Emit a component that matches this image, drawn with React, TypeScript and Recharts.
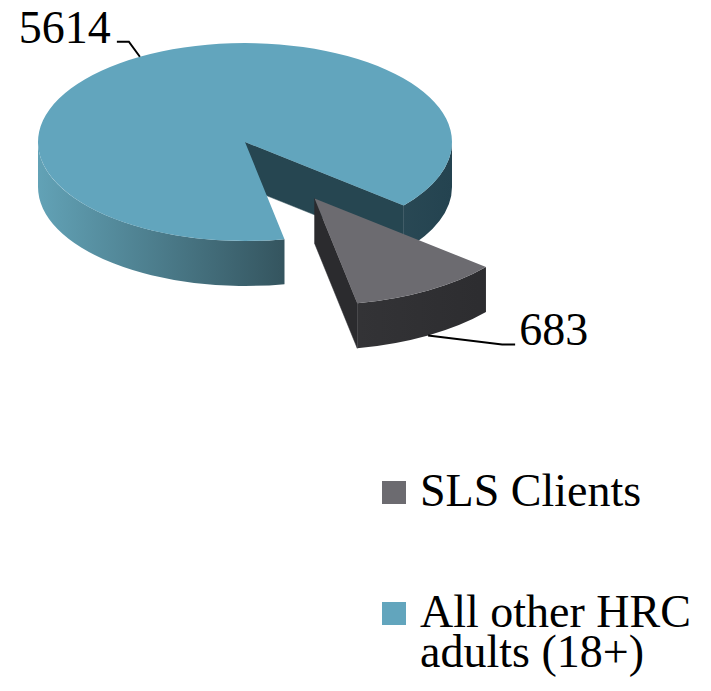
import React from "react";
import { PieChart, Pie, Cell, Legend } from "recharts";

const categories = ["SLS Clients", "All other HRC adults (18+)"];
const values = [683, 5614];
const colors = ["#6c6b70", "#62a5bd"];

// side shading (light -> dark across the slice) and cut-wall colour
const sideShades = [
  ["#78777c", "#333336", "#2a2a2d"],
  ["#62a2b6", "#34545e", "#244350"],
];
const wallColors = ["#2b2b2e", "#264651"];
const explode = [137, 0];
const grow = [1.08, 1];
// label leader: bend offset, then horizontal run
const leaders = [
  { bend: [74, 9], run: 13 },
  { bend: [-11, -15], run: -12 },
];

const W = 711;
const H = 691;
const TILT = 0.478;
const DEPTH = 45;
const FONT = "'Liberation Serif', 'Times New Roman', serif";

// back slice first so the exploded slice gets painted over it
const pieData = categories
  .map((name, i) => ({ name, value: values[i] }))
  .reverse();

const rad = (d: number) => (d * Math.PI) / 180;

function proj(ox: number, oy: number, r: number, deg: number) {
  return [ox + r * Math.cos(rad(deg)), oy - r * TILT * Math.sin(rad(deg))];
}

function sliceOrigin(cx: number, cy: number, mid: number, i: number) {
  const e = explode[i];
  return [cx + e * Math.cos(rad(mid)), cy - e * TILT * Math.sin(rad(mid))];
}

function Slice3D(props: any) {
  const { cx, cy, outerRadius, startAngle, endAngle, midAngle, name } = props;
  const i = categories.indexOf(name);
  const r = outerRadius * grow[i];
  const ry = r * TILT;
  const [ox, oy] = sliceOrigin(cx, cy, midAngle, i);
  const a0 = Math.min(startAngle, endAngle);
  const a1 = Math.max(startAngle, endAngle);
  const p0 = proj(ox, oy, r, a0);
  const p1 = proj(ox, oy, r, a1);
  const large = a1 - a0 > 180 ? 1 : 0;

  const top = `M${ox},${oy} L${p0[0]},${p0[1]} A${r},${ry} 0 ${large} 0 ${p1[0]},${p1[1]} Z`;

  // front (lower-half) parts of the rim
  const sides: string[] = [];
  for (let k = -3; k <= 3; k++) {
    const lo = Math.max(a0, -180 + 360 * k);
    const hi = Math.min(a1, 360 * k);
    if (hi > lo) {
      const s = proj(ox, oy, r, lo);
      const e = proj(ox, oy, r, hi);
      sides.push(
        `M${s[0]},${s[1]} A${r},${ry} 0 0 0 ${e[0]},${e[1]} L${e[0]},${e[1] + DEPTH} A${r},${ry} 0 0 1 ${s[0]},${s[1] + DEPTH} Z`
      );
    }
  }

  // radial cut walls facing the viewer
  const walls: string[] = [];
  const wall = (p: number[]) =>
    `M${ox},${oy} L${p[0]},${p[1]} L${p[0]},${p[1] + DEPTH} L${ox},${oy + DEPTH} Z`;
  if (Math.cos(rad(a0)) > 0) walls.push(wall(p0));
  if (Math.cos(rad(a1)) < 0) walls.push(wall(p1));

  const gid = `side-grad-${i}`;
  return (
    <g>
      <defs>
        <linearGradient id={gid} gradientUnits="userSpaceOnUse" x1={ox - r} y1={0} x2={ox + r} y2={0}>
          <stop offset="0" stopColor={sideShades[i][0]} />
          <stop offset="0.6" stopColor={sideShades[i][1]} />
          <stop offset="1" stopColor={sideShades[i][2]} />
        </linearGradient>
      </defs>
      {walls.map((d, j) => (
        <path key={`w${j}`} d={d} fill={wallColors[i]} stroke={wallColors[i]} strokeWidth={0.5} />
      ))}
      {sides.map((d, j) => (
        <path key={`s${j}`} d={d} fill={`url(#${gid})`} />
      ))}
      <path d={top} fill={colors[i]} />
    </g>
  );
}

function SliceLabel(props: any) {
  const { cx, cy, outerRadius, midAngle, name, value } = props;
  const i = categories.indexOf(name);
  const r = outerRadius * grow[i];
  const [ox, oy] = sliceOrigin(cx, cy, midAngle, i);
  let [x, y] = proj(ox, oy, r, midAngle);
  if (Math.sin(rad(midAngle)) < 0) y += DEPTH;
  const { bend, run } = leaders[i];
  const bx = x + bend[0];
  const by = y + bend[1];
  const ex = bx + run;
  const right = run > 0;
  return (
    <g>
      <polyline points={`${x},${y} ${bx},${by} ${ex},${by}`} fill="none" stroke="#000" strokeWidth={2} />
      <text
        x={right ? ex + 4 : ex - 6}
        y={by + 1}
        textAnchor={right ? "start" : "end"}
        fontFamily={FONT}
        fontSize={46}
        fill="#000"
      >
        {value}
      </text>
    </g>
  );
}

function LegendContent() {
  return (
    <div style={{ fontFamily: FONT, fontSize: 46, lineHeight: "40px", color: "#000" }}>
      {categories.map((c, i) => (
        <div key={c} style={{ display: "flex", alignItems: "flex-start", marginBottom: i === 0 ? 81 : 0 }}>
          <div style={{ width: 24, height: 23, background: colors[i], marginTop: 10, marginRight: 14, flex: "none" }} />
          <div style={{ width: 290 }}>{c}</div>
        </div>
      ))}
    </div>
  );
}

export default function App() {
  return (
    <div style={{ margin: -8 }}>
      <PieChart width={W} height={H} margin={{ top: 0, right: 0, bottom: 0, left: 0 }}>
        <Pie
          data={pieData}
          dataKey="value"
          nameKey="name"
          cx={245}
          cy={142}
          outerRadius={207}
          startAngle={-79}
          endAngle={-439}
          shape={Slice3D}
          activeShape={Slice3D}
          label={SliceLabel}
          labelLine={false}
          isAnimationActive={false}
        >
          {pieData.map((d) => (
            <Cell key={d.name} fill={colors[categories.indexOf(d.name)]} />
          ))}
        </Pie>
        <Legend
          layout="vertical"
          align="right"
          verticalAlign="top"
          content={<LegendContent />}
          wrapperStyle={{ left: 382, top: 470.5, right: "auto", width: 330 }}
        />
      </PieChart>
    </div>
  );
}
